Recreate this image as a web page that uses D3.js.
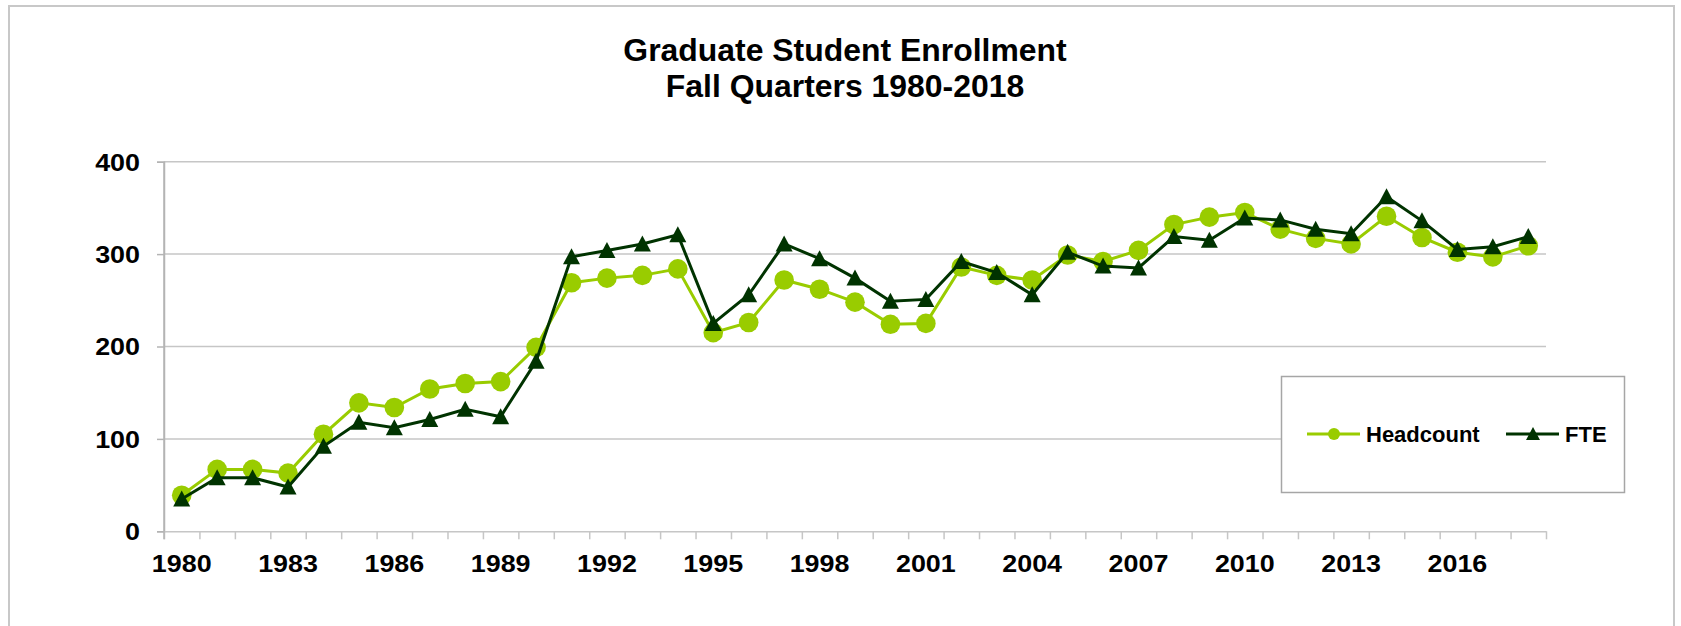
<!DOCTYPE html>
<html>
<head>
<meta charset="utf-8">
<script src="https://d3js.org/d3.v7.min.js"></script>
<style>
  body { margin: 0; background: #fff; }
  text { font-family: "Liberation Sans", Arial, sans-serif; font-weight: bold; fill: #000; }
</style>
</head>
<body>
<div id="chart"></div>
<script>
// values
var years = d3.range(1980, 2019).map(String);
var headcount = [39, 67, 67, 63, 105, 139, 134, 154, 160, 162,
                 199, 269, 274, 277, 284, 215, 226, 272, 262, 248,
                 224, 225, 286, 277, 272, 299, 292, 304, 332, 340,
                 345, 327, 317, 311, 341, 318, 302, 297, 309];
var fte = [35, 58, 58, 48, 92, 118, 112, 121, 132, 124,
           184, 297, 304, 311, 321, 225, 256, 311, 295, 274,
           249, 251, 292, 280, 256, 302, 287, 285, 319, 315,
           339, 337, 327, 322, 362, 336, 305, 308, 319];
var yTicks = [0, 100, 200, 300, 400];
var xLabels = ["1980", "1983", "1986", "1989", "1992", "1995", "1998",
               "2001", "2004", "2007", "2010", "2013", "2016"];
var titleLines = ["Graduate Student Enrollment", "Fall Quarters 1980-2018"];
var seriesNames = ["Headcount", "FTE"];

var W = 1681, H = 626;
var margin = {top: 161.7, right: W - 1546, bottom: H - 531.3, left: 164},
    width = W - margin.left - margin.right,
    height = H - margin.top - margin.bottom;

var colHead = "#99cc00", colFte = "#003300";

var root = d3.select("#chart").append("svg")
    .attr("width", W)
    .attr("height", H);

// outer frame
root.append("rect")
    .attr("x", 9).attr("y", 6)
    .attr("width", W - 16).attr("height", H + 20)
    .style("fill", "none")
    .style("stroke", "#c8c8c8")
    .style("stroke-width", 2);

// the reference text is a bit wider than Arial, stretch it sideways
root.selectAll(".title")
    .data(titleLines)
    .enter().append("text")
    .attr("class", "title")
    .attr("transform", function(d, i) { return "translate(845," + (61 + i * 35.5) + ") scale(1.03,1)"; })
    .attr("text-anchor", "middle")
    .style("font-size", "31px")
    .text(function(d) { return d; });

var svg = root.append("g")
    .attr("transform", "translate(" + margin.left + "," + margin.top + ")");

var x = d3.scaleBand().domain(years).range([0, width]).padding(0),
    xb = d3.scaleLinear().domain([0, years.length]).range([0, width]),
    y = d3.scaleLinear().domain([0, 400]).range([height, 0]);

function cx(d, i) { return x(years[i]) + x.bandwidth() / 2; }

// gridlines
svg.selectAll(".grid")
    .data(yTicks.slice(1))
    .enter().append("line")
    .attr("class", "grid")
    .attr("x1", 0).attr("x2", width)
    .attr("y1", function(d) { return y(d); })
    .attr("y2", function(d) { return y(d); })
    .style("stroke", "#c6c6c6")
    .style("stroke-width", 1.5);

// y axis
var yAxis = svg.append("g")
    .call(d3.axisLeft(y).tickValues(yTicks).tickSize(7).tickPadding(17));
yAxis.select(".domain").style("stroke", "#b4b4b4").style("stroke-width", 1.5);
yAxis.selectAll(".tick line").style("stroke", "#b4b4b4").style("stroke-width", 1.5);
yAxis.selectAll("text")
    .attr("x", 0).attr("dy", "0.35em")
    .attr("transform", "translate(-24,0) scale(1.12,1)")
    .attr("fill", null)
    .style("font-size", "24px").style("font-family", null);

// x axis: boundary ticks
var xTickAxis = svg.append("g")
    .attr("transform", "translate(0," + height + ")")
    .call(d3.axisBottom(xb).tickValues(d3.range(0, years.length + 1)).tickFormat("").tickSizeInner(8).tickSizeOuter(0));
xTickAxis.select(".domain").style("stroke", "#c6c6c6").style("stroke-width", 1.5);
xTickAxis.selectAll(".tick line").style("stroke", "#c6c6c6").style("stroke-width", 1.5);

// x axis: labels every third year
var xLabAxis = svg.append("g")
    .attr("transform", "translate(0," + height + ")")
    .call(d3.axisBottom(x).tickValues(xLabels).tickSize(0));
xLabAxis.select(".domain").remove();
xLabAxis.selectAll("text")
    .attr("y", 0).attr("dy", 0)
    .attr("transform", "translate(0,41) scale(1.12,1)")
    .attr("fill", null)
    .style("font-size", "24px").style("font-family", null);

// y axis line on top of the x axis line
svg.append("line")
    .attr("x1", 0).attr("x2", 0).attr("y1", 0).attr("y2", height + 8)
    .style("stroke", "#b4b4b4").style("stroke-width", 1.5);

var line = d3.line()
    .x(function(d, i) { return cx(d, i); })
    .y(function(d) { return y(d); });

svg.append("path")
    .datum(headcount)
    .attr("d", line)
    .style("fill", "none").style("stroke", colHead).style("stroke-width", 3);

svg.selectAll(".dotH")
    .data(headcount)
    .enter().append("circle")
    .attr("class", "dotH")
    .attr("cx", cx)
    .attr("cy", function(d) { return y(d); })
    .attr("r", 9.8)
    .style("fill", colHead);

svg.append("path")
    .datum(fte)
    .attr("d", line)
    .style("fill", "none").style("stroke", colFte).style("stroke-width", 3);

var tri = "M0,-8.5L8.5,7.5L-8.5,7.5Z";
svg.selectAll(".triF")
    .data(fte)
    .enter().append("path")
    .attr("class", "triF")
    .attr("d", tri)
    .attr("transform", function(d, i) { return "translate(" + cx(d, i) + "," + y(d) + ")"; })
    .style("fill", colFte);

// legend
var legend = root.append("g");
legend.append("rect")
    .attr("x", 1281.5).attr("y", 376.5)
    .attr("width", 343).attr("height", 116)
    .style("fill", "#fff").style("stroke", "#a6a6a6").style("stroke-width", 1.5);

var items = [
  {name: seriesNames[0], x: 1307, col: colHead, mark: "circle"},
  {name: seriesNames[1], x: 1506, col: colFte, mark: "tri"}
];
items.forEach(function(it) {
  var g = legend.append("g").attr("transform", "translate(" + it.x + ",434)");
  g.append("line").attr("x1", 0).attr("x2", 53)
    .style("stroke", it.col).style("stroke-width", 3);
  if (it.mark === "circle") {
    g.append("circle").attr("cx", 27).attr("r", 6).style("fill", it.col);
  } else {
    g.append("path").attr("d", "M0,-7L7,6L-7,6Z")
      .attr("transform", "translate(27,0)").style("fill", it.col);
  }
  g.append("text").attr("x", 59).attr("y", 8)
    .style("font-size", "22px")
    .text(it.name);
});
</script>
</body>
</html>
